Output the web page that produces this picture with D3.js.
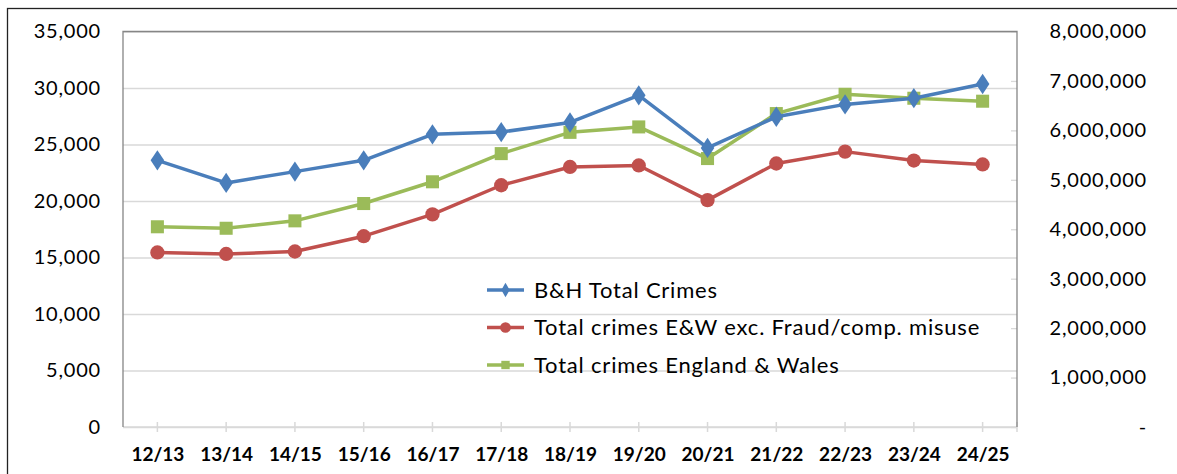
<!DOCTYPE html>
<html lang="en">
<head>
<meta charset="UTF-8">
<title>B&amp;H Total Crimes vs England &amp; Wales</title>
<script src="https://d3js.org/d3.v7.min.js"></script>
<style>
  body { margin: 0; background: #fff; }
  text { font-family: Lato, "Open Sans", sans-serif; fill: #000; }
</style>
</head>
<body>
<svg id="chart" width="1177" height="474"></svg>
<script>
// categories (financial years)
var years = ["12/13", "13/14", "14/15", "15/16", "16/17", "17/18", "18/19",
             "19/20", "20/21", "21/22", "22/23", "23/24", "24/25"];

// B&H total crimes (left axis)
var bhTotal = [23600, 21600, 22600, 23600, 25900, 26100, 26950,
               29350, 24700, 27450, 28550, 29100, 30350];

// E&W excluding fraud / computer misuse (right axis)
var ewExcFraud = [3530000, 3500000, 3550000, 3860000, 4300000, 4890000, 5260000,
                  5290000, 4590000, 5330000, 5570000, 5390000, 5310000];

// E&W total (right axis)
var ewTotal = [4050000, 4020000, 4170000, 4520000, 4960000, 5530000, 5960000,
               6070000, 5430000, 6340000, 6730000, 6650000, 6590000];

var leftTicks = [0, 5000, 10000, 15000, 20000, 25000, 30000, 35000];
var rightTicks = [0, 1000000, 2000000, 3000000, 4000000, 5000000, 6000000, 7000000, 8000000];

var seriesNames = ["B&H Total Crimes", "Total crimes E&W exc. Fraud/comp. misuse", "Total crimes England & Wales"];

var margin = { top: 31.5, right: 160, bottom: 47, left: 123 };
var W = 1177, H = 474;
var width = W - margin.left - margin.right,
    height = H - margin.top - margin.bottom;

var svg = d3.select("#chart");

// outer frame (runs past the picture edge on the right and bottom)
svg.append("rect")
    .attr("x", 7.5).attr("y", 8.5)
    .attr("width", W + 20).attr("height", H + 20)
    .attr("fill", "none").attr("stroke", "#222").attr("stroke-width", 1.3);

var g = svg.append("g")
    .attr("transform", "translate(" + margin.left + "," + margin.top + ")");

var x = d3.scalePoint().domain(years).range([0, width]).padding(0.5);
var yL = d3.scaleLinear().domain([0, 35000]).range([height, 0]);
var yR = d3.scaleLinear().domain([0, 8000000]).range([height, 0]);

// gridlines
g.append("g")
    .call(d3.axisLeft(yL).tickValues(leftTicks).tickSize(-width).tickFormat(""))
    .call(a => a.select(".domain").remove())
    .call(a => a.selectAll("line").attr("stroke", "#d9d9d9").attr("stroke-width", 1.3));

// right axis (inside ticks, labels outside)
var rAxis = g.append("g")
    .attr("transform", "translate(" + width + ",0)")
    .call(d3.axisRight(yR).tickValues(rightTicks).tickSize(0).tickPadding(30)
        .tickFormat(d => d === 0 ? "-" : d3.format(",")(d)));
rAxis.select(".domain").remove();
rAxis.selectAll("text").attr("text-anchor", "end").attr("x", 130)
    .style("font-size", "20px").style("letter-spacing", "0.8px")
    .style("font-family", "Lato, sans-serif");
rAxis.selectAll(".tick").append("line")
    .attr("x1", -6).attr("x2", 0).attr("stroke", "#d9d9d9").attr("stroke-width", 1.3);

// left axis labels
var lAxis = g.append("g")
    .call(d3.axisLeft(yL).tickValues(leftTicks).tickSize(0).tickPadding(22)
        .tickFormat(d3.format(",")));
lAxis.select(".domain").remove();
lAxis.selectAll("text").style("font-size", "20px").style("letter-spacing", "0.8px")
    .style("font-family", "Lato, sans-serif");

// x axis
var xAxis = g.append("g")
    .attr("transform", "translate(0," + height + ")")
    .call(d3.axisBottom(x).tickSize(0).tickPadding(21));
xAxis.select(".domain").remove();
xAxis.selectAll("text").style("font-size", "19px").style("font-weight", "bold")
    .style("font-family", "Lato, sans-serif");
g.append("line").attr("x1", 0).attr("x2", width).attr("y1", height).attr("y2", height)
    .attr("stroke", "#d9d9d9").attr("stroke-width", 1.5);
g.selectAll(".xtick").data(years.map(d => x(d)).concat([width]))
    .enter().append("line").attr("class", "xtick")
    .attr("x1", d => d).attr("x2", d => d)
    .attr("y1", height - 5).attr("y2", height + 5)
    .attr("stroke", "#d9d9d9").attr("stroke-width", 1.5);

// plot border: left, top, right
g.append("path")
    .attr("d", "M0," + height + "V0H" + width + "V" + height)
    .attr("fill", "none").attr("stroke", "#868686").attr("stroke-width", 1.3);

var colors = ["#4a7ebb", "#c0504d", "#9bbb59"];
var data = [
    { vals: bhTotal, y: yL, shape: d3.symbolDiamond, size: 120 },
    { vals: ewExcFraud, y: yR, shape: d3.symbolCircle, size: 160 },
    { vals: ewTotal, y: yR, shape: d3.symbolSquare, size: 170 }
];

var line = (s) => d3.line().x((d, i) => x(years[i])).y(d => s.y(d));

// draw order: red, green, blue on top
[1, 2, 0].forEach(function(k) {
    var s = data[k];
    g.append("path")
        .datum(s.vals)
        .attr("d", line(s))
        .attr("fill", "none")
        .attr("stroke", colors[k])
        .attr("stroke-width", 3.5)
        .attr("stroke-linejoin", "round");
    g.selectAll(".m" + k)
        .data(s.vals)
        .enter().append("path")
        .attr("class", "m" + k)
        .attr("transform", (d, i) => "translate(" + x(years[i]) + "," + s.y(d) + ")" + (k === 0 ? " scale(1.15,1)" : ""))
        .attr("d", d3.symbol().type(s.shape).size(s.size))
        .attr("fill", colors[k]);
});

// legend
var legend = svg.append("g").attr("transform", "translate(487,290)");
var legendSizes = [60, 90, 70];
seriesNames.forEach(function(name, i) {
    var row = legend.append("g").attr("transform", "translate(0," + (i * 37.5) + ")");
    row.append("line").attr("x1", 0).attr("x2", 37).attr("y1", 0).attr("y2", 0)
        .attr("stroke", colors[i]).attr("stroke-width", 3.5);
    row.append("path")
        .attr("transform", "translate(18.5,0)")
        .attr("d", d3.symbol().type(data[i].shape).size(legendSizes[i]))
        .attr("fill", colors[i]);
    row.append("text")
        .attr("x", 47).attr("y", 0).attr("dy", "0.35em")
        .style("font-size", "22px").style("letter-spacing", "0.8px")
        .text(name);
});
</script>
</body>
</html>
